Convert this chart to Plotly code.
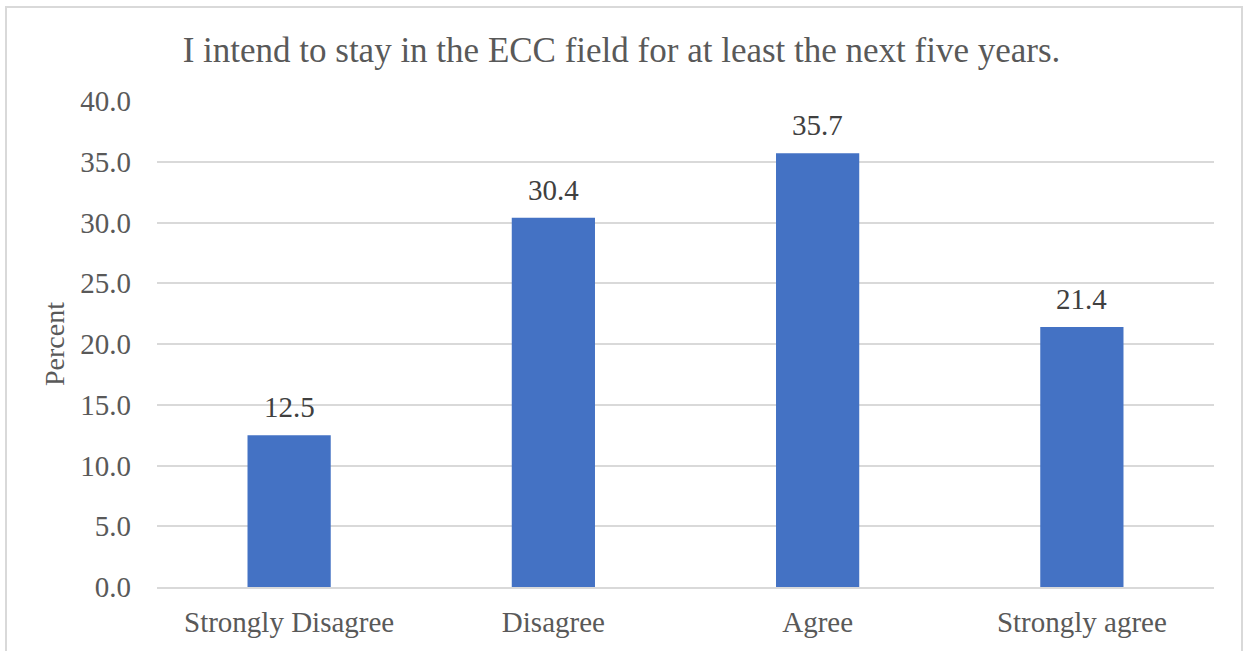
import plotly.graph_objects as go

categories = ["Strongly Disagree", "Disagree", "Agree", "Strongly agree"]
values = [12.5, 30.4, 35.7, 21.4]
y_ticks = [0, 5, 10, 15, 20, 25, 30, 35, 40]
y_tick_labels = ["0.0", "5.0", "10.0", "15.0", "20.0", "25.0", "30.0", "35.0", "40.0"]

FONT = "Liberation Serif, Times New Roman, serif"

fig = go.Figure()
fig.add_trace(go.Bar(
    x=categories, y=values,
    marker=dict(color="#4472C4", line=dict(width=0)),
    hoverinfo="x+y",
))

for c, v in zip(categories, values):
    fig.add_annotation(x=c, y=v, xref="x", yref="y", text=f"{v:.1f}",
                       showarrow=False, yanchor="bottom", yshift=10,
                       font=dict(family=FONT, size=29, color="#404040"))

L, R, T, B = 157, 29, 101, 64
W, H = 1243, 651
pw, ph = W - L - R, H - T - B

def px_x(p):
    return (p - L) / pw

def px_y(p):
    return (H - B - p) / ph

fig.update_layout(
    width=W, height=H,
    margin=dict(l=L, r=R, t=T, b=B, pad=0),
    paper_bgcolor="white", plot_bgcolor="white",
    bargap=0.685,
    showlegend=False,
    title=dict(text="I intend to stay in the ECC field for at least the next five years.",
               font=dict(family=FONT, size=35, color="#595959"),
               x=0.5, xanchor="center", y=1 - 50 / H, yanchor="middle"),
    font=dict(family=FONT, color="#595959"),
    xaxis=dict(showgrid=False, showline=True, linecolor="#d9d9d9", linewidth=2,
               ticks="", tickfont=dict(family=FONT, size=29, color="#595959"),
               ticklabelstandoff=8),
    yaxis=dict(range=[0, 40], tickvals=y_ticks, ticktext=y_tick_labels,
               showgrid=True, gridcolor="#d9d9d9", gridwidth=2,
               zeroline=False, showline=False, ticks="",
               tickfont=dict(family=FONT, size=29, color="#595959"),
               ticklabelstandoff=25,
               title=dict(text="Percent", font=dict(family=FONT, size=28, color="#595959"),
                          standoff=7)),
    shapes=[dict(type="rect", xref="paper", yref="paper",
                 x0=px_x(6), x1=px_x(1242), y0=px_y(700), y1=px_y(7),
                 line=dict(color="#d9d9d9", width=2), fillcolor="rgba(0,0,0,0)",
                 layer="below")],
)

fig.write_html("out.html", config={"displayModeBar": False},
               post_script="document.body.style.margin='0';document.body.style.overflow='hidden';")
